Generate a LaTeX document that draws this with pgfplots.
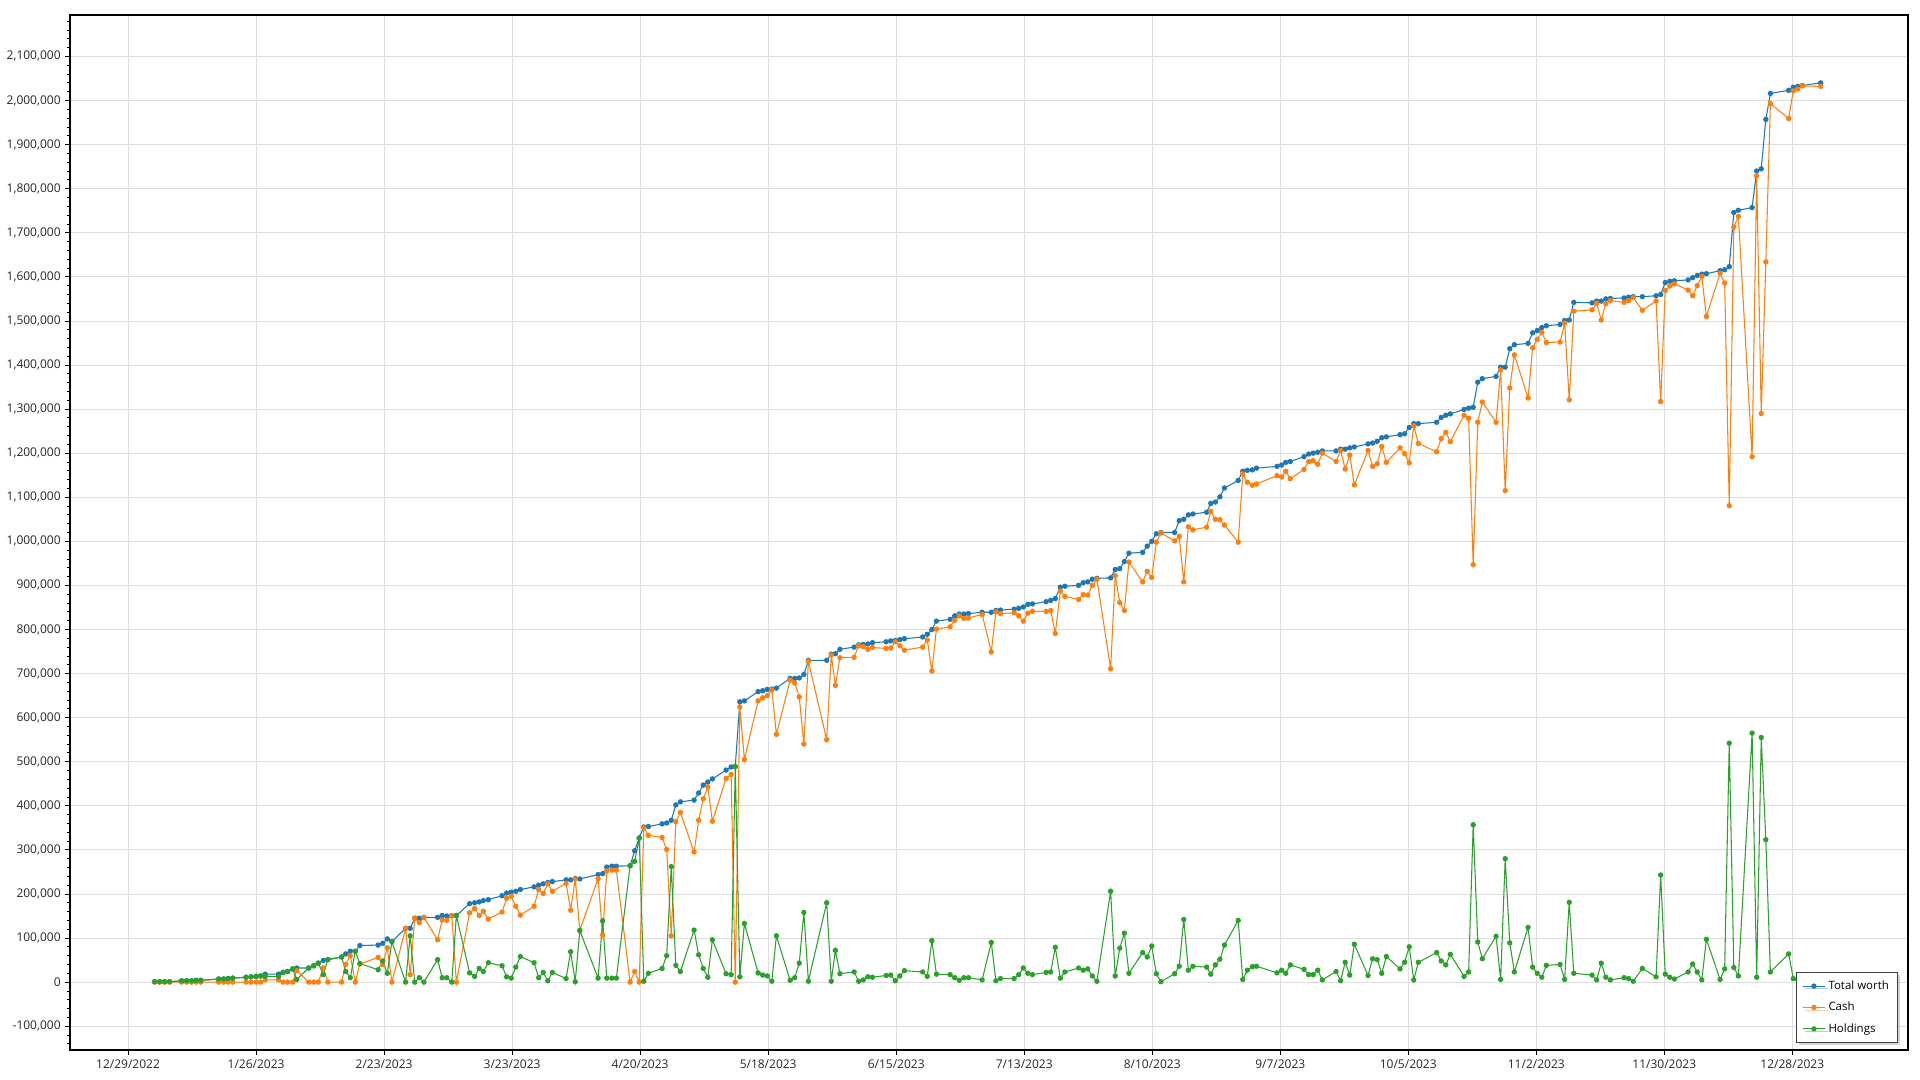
\documentclass[border=0pt]{standalone}
\usepackage{fontspec}
\setmainfont{Open Sans}
\usepackage{pgfplots}
\pgfplotsset{compat=1.18}
\usepackage{pgfplotstable}
\usetikzlibrary{shadows}
\definecolor{cT}{HTML}{1F77B4}
\definecolor{cC}{HTML}{FF7F0E}
\definecolor{cH}{HTML}{2CA02C}
\pgfplotstableread{
d T C H
5.8 1000 0 1000
6.9 1000 0 1000
8.0 1000 0 1000
9.1 1000 0 1000
11.7 3000 0 3000
12.8 3000 0 3000
13.9 3000 0 3000
14.9 4000 0 4000
15.9 4000 0 4000
19.8 7000 0 7000
20.9 7000 0 7000
21.9 8000 0 8000
22.9 9000 0 9000
25.8 11000 0 11000
26.9 12000 0 12000
28.0 13000 0 13000
29.0 14000 0 14000
30.0 18000 5000 13000
32.9 18000 5000 13000
33.9 22000 0 22000
34.9 24000 0 24000
36.0 30000 0 30000
36.9 32000 26000 6000
39.5 32000 0 32000
40.6 37000 0 37000
41.6 43000 0 43000
42.7 49000 32000 17000
43.7 51000 0 51000
46.7 57000 0 57000
47.6 64000 40000 24000
48.6 70000 60000 10000
49.7 70000 0 70000
50.7 83000 41000 42000
54.7 84000 56000 28000
55.7 88000 40000 48000
56.7 98000 78000 20000
57.7 92000 0 92000
60.7 122000 122000 0
61.7 122000 17000 105000
62.7 145000 145000 0
63.7 145000 135000 10000
64.7 147000 147000 0
67.7 147000 96000 51000
68.7 151000 141000 10000
69.7 150000 140000 10000
70.8 151000 151000 0
71.8 151000 0 151000
74.7 178000 157000 21000
75.8 180000 167000 13000
76.8 182000 151000 31000
77.7 185000 161000 24000
78.8 187000 143000 44000
81.8 196000 159000 37000
82.8 202000 190000 12000
83.8 204000 195000 9000
84.8 206000 172000 34000
85.8 210000 152000 58000
88.8 216000 172000 44000
89.8 220000 210000 10000
90.8 223000 201000 22000
91.8 226000 223000 3000
92.8 228000 206000 22000
95.8 232000 224000 8000
96.8 232000 163000 69000
97.8 235000 234000 1000
98.8 234000 117000 117000
102.8 244000 235000 9000
103.8 246000 107000 139000
104.7 261000 252000 9000
105.8 263000 254000 9000
106.8 263000 254000 9000
109.8 264000 0 264000
110.8 298000 24000 274000
111.8 327000 0 327000
112.8 352000 350000 2000
113.8 353000 333000 20000
116.8 359000 328000 31000
117.8 361000 301000 60000
118.8 367000 105000 262000
119.8 402000 364000 38000
120.8 409000 385000 24000
123.8 413000 295000 118000
124.8 429000 367000 62000
125.8 447000 416000 31000
126.8 454000 443000 11000
127.8 461000 365000 96000
130.8 481000 462000 19000
131.9 488000 471000 17000
132.8 489000 0 489000
133.8 636000 624000 12000
134.8 638000 505000 133000
137.8 659000 638000 21000
138.8 661000 645000 16000
139.8 664000 650000 14000
140.8 665000 663000 2000
141.8 667000 562000 105000
144.8 689000 685000 4000
145.8 689000 679000 10000
146.8 690000 647000 43000
147.8 698000 540000 158000
148.8 730000 728000 2000
152.8 730000 550000 180000
153.8 744000 742000 2000
154.7 745000 673000 72000
155.7 755000 736000 19000
158.8 760000 737000 23000
159.8 765000 763000 2000
160.8 766000 761000 5000
161.8 767000 755000 12000
162.8 770000 759000 11000
165.8 772000 757000 15000
166.8 774000 758000 16000
167.8 775000 772000 3000
168.8 777000 763000 14000
169.8 779000 753000 26000
173.8 783000 760000 23000
174.8 789000 776000 13000
175.8 800000 706000 94000
176.8 819000 801000 18000
179.8 823000 806000 17000
180.8 831000 821000 10000
181.8 835000 831000 4000
182.8 835000 825000 10000
183.8 836000 826000 10000
186.8 839000 834000 5000
188.8 839000 749000 90000
189.8 843000 840000 3000
190.8 844000 836000 8000
193.8 846000 838000 8000
194.8 848000 831000 17000
195.8 851000 819000 32000
196.8 857000 837000 20000
197.8 858000 841000 17000
200.8 863000 841000 22000
201.8 866000 843000 23000
202.8 870000 791000 79000
203.9 896000 887000 9000
204.9 898000 875000 23000
207.9 900000 868000 32000
208.9 906000 879000 27000
209.9 908000 878000 30000
210.9 914000 900000 14000
211.9 916000 914000 2000
214.9 917000 711000 206000
215.9 936000 922000 14000
216.9 938000 861000 77000
217.9 954000 843000 111000
218.9 973000 953000 20000
221.9 975000 908000 67000
222.9 989000 932000 57000
223.9 1000000 918000 82000
224.9 1017000 998000 19000
225.9 1020000 1019000 1000
228.9 1020000 1001000 19000
229.9 1047000 1011000 36000
230.9 1050000 908000 142000
231.9 1060000 1033000 27000
232.9 1062000 1026000 36000
235.9 1066000 1032000 34000
236.8 1086000 1068000 18000
237.8 1089000 1050000 39000
238.8 1101000 1049000 52000
239.8 1121000 1037000 84000
242.8 1138000 998000 140000
243.8 1159000 1153000 6000
244.8 1161000 1134000 27000
245.9 1162000 1127000 35000
246.8 1166000 1130000 36000
251.3 1170000 1149000 21000
252.3 1173000 1146000 27000
253.2 1179000 1159000 20000
254.2 1181000 1142000 39000
257.2 1192000 1163000 29000
258.2 1198000 1181000 17000
259.2 1200000 1183000 17000
260.2 1202000 1175000 27000
261.2 1205000 1200000 5000
264.2 1205000 1181000 24000
265.2 1209000 1206000 3000
266.2 1209000 1164000 45000
267.2 1212000 1196000 16000
268.2 1214000 1128000 86000
271.2 1221000 1206000 15000
272.2 1223000 1170000 53000
273.2 1227000 1176000 51000
274.2 1235000 1215000 20000
275.2 1237000 1179000 58000
278.2 1242000 1212000 30000
279.2 1244000 1199000 45000
280.2 1258000 1178000 80000
281.2 1267000 1262000 5000
282.2 1267000 1222000 45000
286.2 1270000 1203000 67000
287.2 1281000 1233000 48000
288.2 1286000 1247000 39000
289.2 1289000 1226000 63000
292.2 1299000 1286000 13000
293.2 1302000 1279000 23000
294.2 1304000 947000 357000
295.2 1361000 1270000 91000
296.2 1369000 1316000 53000
299.2 1374000 1270000 104000
300.2 1395000 1389000 6000
301.2 1395000 1115000 280000
302.2 1437000 1348000 89000
303.2 1446000 1423000 23000
306.2 1449000 1325000 124000
307.2 1473000 1439000 34000
308.2 1478000 1458000 20000
309.2 1485000 1474000 11000
310.2 1489000 1451000 38000
313.2 1492000 1452000 40000
314.2 1501000 1495000 6000
315.2 1502000 1321000 181000
316.2 1542000 1522000 20000
320.2 1541000 1525000 16000
321.2 1545000 1540000 5000
322.2 1545000 1502000 43000
323.2 1550000 1539000 11000
324.2 1551000 1546000 5000
327.2 1552000 1542000 10000
328.2 1554000 1546000 8000
329.2 1555000 1553000 2000
331.2 1555000 1524000 31000
334.2 1557000 1545000 12000
335.2 1560000 1317000 243000
336.2 1587000 1569000 18000
337.2 1590000 1579000 11000
338.2 1591000 1584000 7000
341.2 1593000 1570000 23000
342.2 1598000 1557000 41000
343.2 1603000 1580000 23000
344.2 1606000 1601000 5000
345.2 1607000 1510000 97000
348.2 1614000 1608000 6000
349.2 1616000 1586000 30000
350.2 1623000 1081000 542000
351.2 1746000 1713000 33000
352.2 1751000 1737000 14000
355.2 1757000 1192000 565000
356.2 1840000 1829000 11000
357.2 1845000 1290000 555000
358.2 1957000 1634000 323000
359.2 2016000 1993000 23000
363.2 2023000 1959000 64000
364.2 2030000 2022000 8000
365.2 2032000 2026000 6000
366.2 2034000 2033000 1000
370.2 2040000 2032000 8000
}\data

\begin{document}
\begin{tikzpicture}
\useasboundingbox (-52.5pt,-22.5pt) rectangle (1387.5pt,787.5pt);
\begin{axis}[
  at={(0pt,0pt)}, anchor=south west,
  scale only axis, width=1378.5pt, height=776.25pt,
  xmin=-12.7, xmax=389.3, ymin=-154000, ymax=2194000,
  xtick={0,28,56,84,112,140,168,196,224,252,280,308,336,364},
  xticklabels={12/29/2022,1/26/2023,2/23/2023,3/23/2023,4/20/2023,5/18/2023,6/15/2023,7/13/2023,8/10/2023,9/7/2023,10/5/2023,11/2/2023,11/30/2023,12/28/2023},
  ytick={-100000,0,100000,200000,300000,400000,500000,600000,700000,800000,900000,1000000,1100000,1200000,1300000,1400000,1500000,1600000,1700000,1800000,1900000,2000000,2100000},
  minor ytick={-140000,-120000,-80000,-60000,-40000,-20000,20000,40000,60000,80000,120000,140000,160000,180000,220000,240000,260000,280000,320000,340000,360000,380000,420000,440000,460000,480000,520000,540000,560000,580000,620000,640000,660000,680000,720000,740000,760000,780000,820000,840000,860000,880000,920000,940000,960000,980000,1020000,1040000,1060000,1080000,1120000,1140000,1160000,1180000,1220000,1240000,1260000,1280000,1320000,1340000,1360000,1380000,1420000,1440000,1460000,1480000,1520000,1540000,1560000,1580000,1620000,1640000,1660000,1680000,1720000,1740000,1760000,1780000,1820000,1840000,1860000,1880000,1920000,1940000,1960000,1980000,2020000,2040000,2060000,2080000,2120000,2140000,2160000,2180000},
  scaled y ticks=false,
  yticklabel style={/pgf/number format/.cd, fixed, precision=0, 1000 sep={,}, assume math mode=true},
  tick label style={font=\fontsize{9}{11}\selectfont, text=black!85},
  tick align=outside,
  major tick length=3.5pt, minor tick length=2pt,
  tick style={black, line width=0.6pt},
  xtick pos=bottom, ytick pos=left,
  xmajorgrids, ymajorgrids,
  major grid style={draw=black!13, line width=0.6pt},
  axis line style={black, line width=0.8pt},
  legend style={at={(1,0)}, anchor=south east, xshift=-7.5pt, yshift=5.5pt,
    draw=black!75, line width=0.7pt, fill=white,
    font=\fontsize{8.6}{10.5}\selectfont, row sep=4pt, inner xsep=4.5pt, inner ysep=4pt,
    drop shadow={shadow xshift=2pt, shadow yshift=-2pt, opacity=0.35}},
  legend cell align=left,
  every axis plot/.append style={line width=0.8pt, mark=*, mark size=1.6pt, mark options={solid}},
]
\addplot[color=cT] table[x=d,y=T] {\data};
\addlegendentry{Total worth}
\addplot[color=cC] table[x=d,y=C] {\data};
\addlegendentry{Cash}
\addplot[color=cH] table[x=d,y=H] {\data};
\addlegendentry{Holdings}
\end{axis}
\end{tikzpicture}
\end{document}
